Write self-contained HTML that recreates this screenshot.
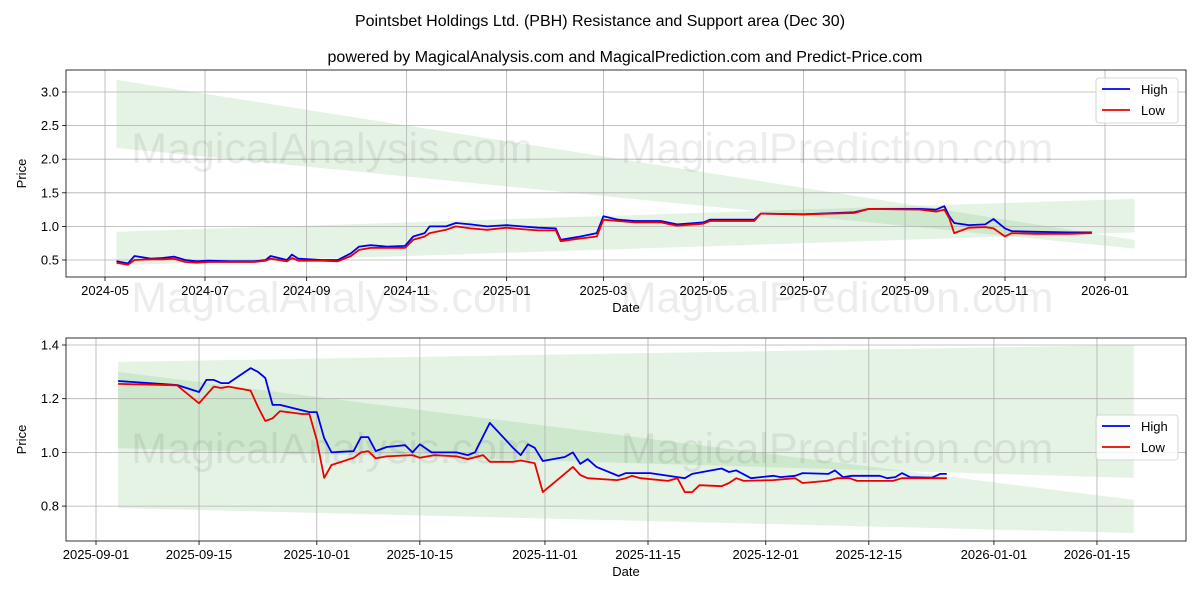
<!DOCTYPE html>
<html><head><meta charset="utf-8"><style>
html,body{margin:0;padding:0;background:#fff}
svg{display:block;font-family:"Liberation Sans","DejaVu Sans",sans-serif}
</style></head><body>
<svg id="c" width="1200" height="600" viewBox="0 0 1200 600"></svg>
<script>
// ---------- top chart data ----------
const topDates = ["2024-05-08","2024-05-15","2024-05-19","2024-05-29","2024-06-05","2024-06-12","2024-06-19","2024-06-26","2024-07-03","2024-07-17","2024-07-31","2024-08-07","2024-08-10","2024-08-20","2024-08-23","2024-08-27","2024-09-10","2024-09-20","2024-09-28","2024-10-03","2024-10-10","2024-10-20","2024-10-31","2024-11-05","2024-11-12","2024-11-15","2024-11-25","2024-12-01","2024-12-10","2024-12-20","2025-01-01","2025-01-10","2025-01-20","2025-01-31","2025-02-03","2025-02-15","2025-02-25","2025-03-01","2025-03-10","2025-03-20","2025-04-05","2025-04-15","2025-05-01","2025-05-05","2025-06-01","2025-06-05","2025-07-01","2025-08-01","2025-08-10","2025-09-10","2025-09-20","2025-09-25","2025-09-28","2025-10-01","2025-10-10","2025-10-20","2025-10-25","2025-11-01","2025-11-05","2025-11-20","2025-12-10","2025-12-24"];
const topHigh = [0.48,0.45,0.56,0.52,0.53,0.55,0.50,0.48,0.49,0.48,0.48,0.50,0.56,0.50,0.58,0.52,0.50,0.50,0.60,0.70,0.72,0.70,0.71,0.85,0.90,1.00,1.00,1.05,1.03,1.00,1.02,1.00,0.98,0.97,0.80,0.85,0.90,1.15,1.10,1.08,1.08,1.03,1.06,1.10,1.10,1.19,1.18,1.21,1.26,1.26,1.25,1.30,1.15,1.05,1.02,1.03,1.11,0.97,0.93,0.92,0.91,0.91];
const topLow = [0.46,0.43,0.50,0.51,0.51,0.52,0.47,0.46,0.47,0.47,0.47,0.49,0.52,0.48,0.53,0.49,0.49,0.48,0.56,0.65,0.68,0.68,0.68,0.80,0.85,0.90,0.95,1.00,0.97,0.95,0.98,0.96,0.94,0.94,0.78,0.82,0.85,1.10,1.08,1.06,1.06,1.01,1.04,1.08,1.08,1.19,1.18,1.20,1.26,1.25,1.22,1.25,1.12,0.90,0.98,0.99,0.97,0.85,0.90,0.89,0.89,0.90];
const topTicks = ["2024-05","2024-07","2024-09","2024-11","2025-01","2025-03","2025-05","2025-07","2025-09","2025-11","2026-01"];
const topYTicks = [0.5,1.0,1.5,2.0,2.5,3.0];
const topBandDates = ["2024-05-08","2026-01-19"];
const topBand1Top = [3.18,0.80], topBand1Bot = [2.17,0.67];
const topBand2Top = [0.92,1.41], topBand2Bot = [0.42,0.91];

// ---------- bottom chart data (days after 2025-09-01) ----------
const highDay = [3,11,14,15,16,17,18,21,22,23,24,25,29,30,31,32,35,36,37,38,39.5,42,43,44,45.6,49,50.5,51.5,53.5,56.7,57.7,58.7,59.6,60.7,63.7,64.8,65.8,66.8,68,71,72,75.3,79,80,81,85,86,87,89,92,93,95,96,99.5,100.4,101.5,102.7,106.5,107.5,108.6,109.5,110.6,113.6,114.7,115.6];
const highVal = [1.266,1.251,1.225,1.27,1.27,1.258,1.258,1.314,1.30,1.277,1.177,1.177,1.15,1.15,1.053,1.0,1.005,1.057,1.057,1.005,1.02,1.027,1.0,1.03,1.0,1.0,0.99,1.0,1.11,1.016,0.99,1.03,1.017,0.968,0.983,1.0,0.957,0.975,0.946,0.912,0.923,0.923,0.908,0.904,0.92,0.94,0.927,0.933,0.904,0.913,0.908,0.913,0.923,0.92,0.933,0.908,0.913,0.913,0.904,0.908,0.923,0.908,0.906,0.92,0.92];
const lowDay = [3,11,14,16,17,18,21,22,23,24,25,28,29,30,31,32,35,36,37,38,39.5,43,44,46,49,50.5,52.6,53.5,56.7,57.7,59.6,60.7,64.8,65.8,66.8,70.8,72,72.8,74,77.7,79,80,81,82,85,86,87,88,92,95,96,99.3,100.7,102.4,103.4,108.3,109.5,115.6];
const lowVal = [1.255,1.25,1.183,1.245,1.24,1.245,1.23,1.17,1.117,1.127,1.154,1.143,1.143,1.046,0.905,0.953,0.98,1.0,1.005,0.978,0.985,0.99,0.98,0.99,0.985,0.975,0.99,0.965,0.965,0.97,0.96,0.852,0.946,0.916,0.904,0.897,0.904,0.913,0.904,0.894,0.904,0.852,0.852,0.878,0.874,0.886,0.904,0.894,0.897,0.904,0.886,0.894,0.904,0.904,0.894,0.894,0.904,0.904];
const botTicks = ["2025-09-01","2025-09-15","2025-10-01","2025-10-15","2025-11-01","2025-11-15","2025-12-01","2025-12-15","2026-01-01","2026-01-15"];
const botYTicks = [0.8,1.0,1.2,1.4];
const botBandDays = [3,141];
const botBand1Top = [1.337,1.40], botBand1Bot = [1.016,0.905];
const botBand2Top = [1.30,0.823], botBand2Bot = [0.793,0.70];

const svg = document.getElementById('c');
const NS = 'http://www.w3.org/2000/svg';
function mk(tag, attrs, parent, text){
  const e = document.createElementNS(NS, tag);
  for (const k in attrs) e.setAttribute(k, attrs[k]);
  if (text !== undefined) e.textContent = text;
  (parent || svg).appendChild(e);
  return e;
}
const dms = s => Date.parse(s + (s.length === 7 ? "-01" : "") + "T00:00:00Z");
const DAY = 86400000;

let t = mk('text', {x:600, y:26, 'text-anchor':'middle', 'font-size':16, fill:'#000'}, svg, 'Pointsbet Holdings Ltd. (PBH) Resistance and Support area (Dec 30)');
 
t = mk('text', {x:625, y:62, 'text-anchor':'middle', 'font-size':16, fill:'#000'}, svg, 'powered by MagicalAnalysis.com and MagicalPrediction.com and Predict-Price.com');
 

function panel(cfg){
  const g = mk('g', {});
  
  
  const {L, R, T, B} = cfg;
  const X = cfg.X, Y = cfg.Y;
  function band(xs, top, bot, nm){
    const p = mk('polygon', {points:
      `${X(xs[0])},${Y(top[0])} ${X(xs[1])},${Y(top[1])} ${X(xs[1])},${Y(bot[1])} ${X(xs[0])},${Y(bot[0])}`,
      fill:'#2ca02c', 'fill-opacity':0.12}, g);
    
    
  }
  band(cfg.bandX, cfg.b1t, cfg.b1b, 'resistance-band');
  band(cfg.bandX, cfg.b2t, cfg.b2b, 'support-band');
  cfg.xt.forEach(v => {
    const x = X(v);
    mk('line', {x1:x, x2:x, y1:T, y2:B, stroke:'#b0b0b0', 'stroke-width':0.8}, g);
    mk('line', {x1:x, x2:x, y1:B, y2:B+4, stroke:'#000', 'stroke-width':0.8}, g);
    const tl = mk('text', {x:x, y:B+18, 'text-anchor':'middle', 'font-size':13, fill:'#000'}, g, cfg.xtl(v));
    
    
  });
  cfg.yt.forEach(v => {
    const y = Y(v);
    mk('line', {x1:L, x2:R, y1:y, y2:y, stroke:'#b0b0b0', 'stroke-width':0.8}, g);
    mk('line', {x1:L-4, x2:L, y1:y, y2:y, stroke:'#000', 'stroke-width':0.8}, g);
    const tl = mk('text', {x:L-7, y:y+4.5, 'text-anchor':'end', 'font-size':13, fill:'#000'}, g, v.toFixed(1));
    
    
  });
  cfg.wm.forEach(wy => {
    const w1 = mk('text', {x:332, y:wy, 'text-anchor':'middle', 'font-size':43, fill:'#000', 'fill-opacity':0.07}, g, 'MagicalAnalysis.com');
    
    
    const w2 = mk('text', {x:837, y:wy, 'text-anchor':'middle', 'font-size':43, fill:'#000', 'fill-opacity':0.07}, g, 'MagicalPrediction.com');
    
    
  });
  function line(xs, ys, col, nm){
    const pts = xs.map((x, i) => X(x).toFixed(1) + ',' + Y(ys[i]).toFixed(1)).join(' ');
    const pl = mk('polyline', {points:pts, fill:'none', stroke:col, 'stroke-width':1.8, 'stroke-linejoin':'round'}, g);
    
    
  }
  line(cfg.hx, cfg.hy, '#0000ee', 'high-line');
  line(cfg.lx, cfg.ly, '#ee0000', 'low-line');
  mk('rect', {x:L, y:T, width:R-L, height:B-T, fill:'none', stroke:'#000', 'stroke-width':0.8}, g);
  let a = mk('text', {x:(L+R)/2, y:B+35, 'text-anchor':'middle', 'font-size':13, fill:'#000'}, g, 'Date');
   
  a = mk('text', {x:0, y:0, 'text-anchor':'middle', 'font-size':13, fill:'#000', transform:`translate(26 ${(T+B)/2}) rotate(-90)`}, g, 'Price');
   
  const lg = mk('g', {}, g);
  
  
  const ly = cfg.legY;
  mk('rect', {x:1096, y:ly, width:82, height:45, rx:3, fill:'#fff', 'fill-opacity':0.8, stroke:'#ccc', 'stroke-width':0.8}, lg);
  mk('line', {x1:1102, x2:1130, y1:ly+11, y2:ly+11, stroke:'#0000ee', 'stroke-width':1.8}, lg);
  mk('line', {x1:1102, x2:1130, y1:ly+32, y2:ly+32, stroke:'#ee0000', 'stroke-width':1.8}, lg);
  let le = mk('text', {x:1141, y:ly+16, 'font-size':13, fill:'#000'}, lg, 'High');
   
  le = mk('text', {x:1141, y:ly+37, 'font-size':13, fill:'#000'}, lg, 'Low');
   
}

const tX0 = dms("2024-05-01"), tX1 = dms("2026-01-01");
const topX = s => 105 + (dms(s) - tX0) / (tX1 - tX0) * 1000;
const topY = v => 260 - (v - 0.5) * 67.2;
panel({name:'top-panel', L:66, R:1186, T:70, B:277, X:topX, Y:topY,
  bandX:topBandDates, b1t:topBand1Top, b1b:topBand1Bot, b2t:topBand2Top, b2b:topBand2Bot,
  xt:topTicks, xtl:v => v, yt:topYTicks, wm:[163, 312],
  hx:topDates, hy:topHigh, lx:topDates, ly:topLow, legY:78});

const bX0 = dms("2025-09-01");
const botXd = d => 96 + d * 7.36;
const botXs = s => botXd((dms(s) - bX0) / DAY);
const botX = v => typeof v === 'string' ? botXs(v) : botXd(v);
const botY = v => 345 + (1.4 - v) * 268.5;
panel({name:'bottom-panel', L:66, R:1186, T:338, B:541, X:botX, Y:botY,
  bandX:botBandDays, b1t:botBand1Top, b1b:botBand1Bot, b2t:botBand2Top, b2b:botBand2Bot,
  xt:botTicks, xtl:v => v, yt:botYTicks, wm:[463],
  hx:highDay, hy:highVal, lx:lowDay, ly:lowVal, legY:415});
</script>
</body></html>
